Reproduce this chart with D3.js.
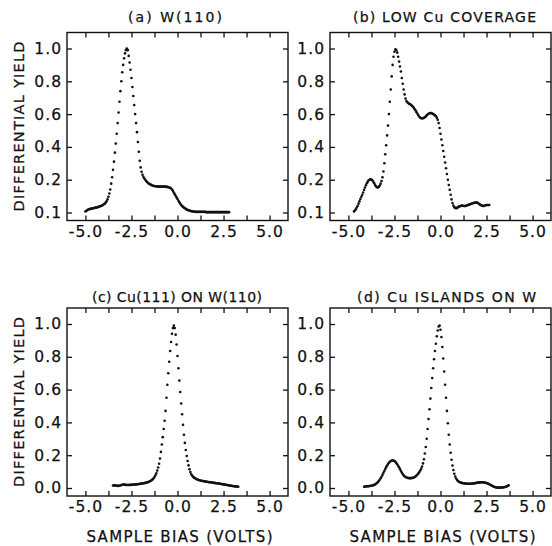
<!DOCTYPE html>
<html><head><meta charset="utf-8">
<script src="https://cdn.jsdelivr.net/npm/d3@7"></script>
<style>
body{margin:0;background:#fff}
text{font-family:"DejaVu Sans",sans-serif;fill:#111;stroke:#111;stroke-width:0.25px}
</style>
</head><body>
<svg id="chart" width="552" height="546"></svg>
<script>
// ---------- data ----------
const panelTitles = ["(a)  W(110)", "(b)  LOW  Cu  COVERAGE", "(c)  Cu(111)  ON  W(110)", "(d)  Cu  ISLANDS  ON  W"];
const yAxisTitle = "DIFFERENTIAL  YIELD";
const xAxisTitle = "SAMPLE  BIAS  (VOLTS)";
const xTickValues = [-5, -3.75, -2.5, -1.25, 0, 1.25, 2.5, 3.75, 5];
const xTickLabels = ["-5.0", "", "-2.5", "", "0.0", "", "2.5", "", "5.0"];
const yTicksTop = [0.1, 0.2, 0.4, 0.6, 0.8, 1.0];
const yTicksBottom = [0, 0.2, 0.4, 0.6, 0.8, 1.0];
const biasStep = 0.05;
const biasStartA = -5.0, biasStartB = -4.7, biasStartC = -3.5, biasStartD = -4.15;

const yieldA = [
0.103,0.105,0.107,0.109,0.110,0.111,0.111,0.112,0.113,0.113,
0.114,0.115,0.115,0.116,0.117,0.118,0.119,0.120,0.121,0.123,
0.125,0.127,0.130,0.134,0.140,0.148,0.158,0.170,0.188,0.215,
0.26,0.31,0.365,0.42,0.48,0.545,0.61,0.675,0.74,0.80,
0.855,0.90,0.94,0.97,0.99,1.00,0.99,0.955,0.915,0.87,
0.82,0.765,0.71,0.655,0.60,0.545,0.49,0.43,0.37,0.315,
0.275,0.248,0.230,0.217,0.207,0.200,0.196,0.193,0.190,0.188,
0.186,0.185,0.183,0.182,0.181,0.181,0.180,0.180,0.179,0.179,
0.179,0.179,0.179,0.179,0.179,0.179,0.179,0.179,0.178,0.178,
0.177,0.176,0.175,0.173,0.170,0.166,0.161,0.156,0.151,0.146,
0.141,0.136,0.131,0.127,0.123,0.120,0.117,0.115,0.113,0.111,
0.109,0.108,0.107,0.106,0.105,0.104,0.104,0.103,0.103,0.102,
0.102,0.102,0.102,0.102,0.102,0.102,0.102,0.102,0.102,0.102,
0.102,0.101,0.101,0.101,0.101,0.101,0.101,0.101,0.101,0.101,
0.101,0.101,0.101,0.101,0.101,0.101,0.101,0.101,0.101,0.101,
0.101,0.101,0.101,0.101,0.101,0.101,0.101];

const yieldB = [
0.103,0.106,0.110,0.115,0.120,0.127,0.134,0.141,0.148,0.154,
0.161,0.169,0.176,0.183,0.189,0.194,0.198,0.200,0.202,0.201,
0.198,0.194,0.189,0.184,0.180,0.177,0.176,0.178,0.182,0.188,
0.196,0.215,0.25,0.30,0.355,0.41,0.47,0.53,0.60,0.675,
0.75,0.83,0.90,0.95,0.98,0.995,0.99,0.975,0.95,0.92,
0.89,0.86,0.82,0.785,0.75,0.72,0.695,0.68,0.672,0.667,
0.663,0.660,0.656,0.651,0.645,0.638,0.630,0.622,0.612,0.602,
0.592,0.584,0.578,0.575,0.574,0.575,0.577,0.581,0.586,0.592,
0.598,0.602,0.605,0.606,0.606,0.604,0.601,0.597,0.593,0.587,
0.578,0.565,0.545,0.515,0.48,0.445,0.41,0.375,0.34,0.305,
0.27,0.235,0.20,0.184,0.169,0.154,0.140,0.129,0.121,0.116,
0.114,0.113,0.114,0.116,0.118,0.119,0.120,0.121,0.121,0.120,
0.120,0.120,0.121,0.122,0.123,0.124,0.125,0.126,0.127,0.128,
0.129,0.130,0.130,0.130,0.130,0.128,0.126,0.124,0.122,0.121,
0.120,0.120,0.121,0.122,0.123,0.123,0.123,0.123];

const yieldC = [
0.015,0.016,0.016,0.015,0.014,0.013,0.013,0.014,0.016,0.018,
0.020,0.021,0.021,0.020,0.019,0.018,0.018,0.018,0.019,0.019,
0.020,0.020,0.021,0.021,0.022,0.022,0.023,0.023,0.024,0.025,
0.026,0.027,0.028,0.029,0.030,0.031,0.032,0.034,0.036,0.038,
0.041,0.044,0.048,0.053,0.059,0.067,0.077,0.090,0.106,0.125,
0.148,0.18,0.22,0.265,0.31,0.36,0.41,0.47,0.55,0.63,
0.70,0.77,0.835,0.89,0.94,0.975,0.99,0.975,0.935,0.875,
0.805,0.73,0.655,0.585,0.515,0.45,0.385,0.325,0.275,0.232,
0.195,0.165,0.138,0.115,0.097,0.084,0.075,0.068,0.063,0.059,
0.056,0.053,0.051,0.049,0.047,0.045,0.044,0.043,0.042,0.041,
0.040,0.039,0.038,0.037,0.036,0.035,0.035,0.034,0.033,0.032,
0.031,0.030,0.029,0.029,0.028,0.027,0.026,0.025,0.024,0.023,
0.022,0.021,0.020,0.019,0.018,0.017,0.016,0.015,0.014,0.013,
0.012,0.011,0.010,0.010,0.009,0.009,0.008];

const yieldD = [
0.008,0.009,0.010,0.010,0.011,0.011,0.012,0.013,0.014,0.015,
0.017,0.019,0.022,0.026,0.030,0.036,0.042,0.050,0.059,0.069,
0.080,0.092,0.104,0.116,0.127,0.137,0.146,0.154,0.160,0.164,
0.167,0.168,0.167,0.164,0.159,0.153,0.145,0.136,0.126,0.115,
0.104,0.094,0.085,0.078,0.072,0.067,0.064,0.062,0.061,0.060,
0.060,0.060,0.061,0.062,0.064,0.067,0.071,0.076,0.082,0.089,
0.097,0.107,0.118,0.131,0.150,0.175,0.21,0.25,0.30,0.36,
0.42,0.48,0.545,0.61,0.67,0.73,0.785,0.835,0.88,0.925,
0.96,0.985,0.99,0.965,0.92,0.86,0.79,0.71,0.63,0.55,
0.47,0.395,0.325,0.265,0.215,0.172,0.137,0.109,0.087,0.070,
0.058,0.049,0.043,0.038,0.035,0.033,0.031,0.030,0.029,0.028,
0.027,0.027,0.026,0.026,0.026,0.026,0.026,0.027,0.027,0.028,
0.029,0.030,0.031,0.032,0.033,0.034,0.034,0.035,0.035,0.035,
0.034,0.033,0.032,0.030,0.028,0.026,0.023,0.020,0.017,0.014,
0.011,0.008,0.006,0.004,0.003,0.002,0.002,0.002,0.002,0.003,
0.003,0.004,0.005,0.006,0.008,0.010,0.013,0.016];

// ---------- layout ----------
const PW = 221, PH = 188, POS1 = 16, POS0 = 180;
const panels = [
  {x: 67,  y: 32.5, start: biasStartA, vals: yieldA, ticks: yTicksTop,    title: panelTitles[0], tx: 175,   ty: 21.5,  tlen: 94,  yTitle: true,  xTitle: false},
  {x: 330, y: 32.5, start: biasStartB, vals: yieldB, ticks: yTicksTop,    title: panelTitles[1], tx: 444.5, ty: 21.5,  tlen: 183, yTitle: false, xTitle: false},
  {x: 67,  y: 308,  start: biasStartC, vals: yieldC, ticks: yTicksBottom, title: panelTitles[2], tx: 177,   ty: 301.5, tlen: 170, yTitle: true,  xTitle: true},
  {x: 330, y: 308,  start: biasStartD, vals: yieldD, ticks: yTicksBottom, title: panelTitles[3], tx: 446.5, ty: 301.5, tlen: 179, yTitle: false, xTitle: true}
];

const svg = d3.select("#chart");
svg.append("rect").attr("width", 552).attr("height", 546).attr("fill", "#fff");

panels.forEach(p => {
  const g = svg.append("g").attr("transform", `translate(${p.x},${p.y})`);
  const x = d3.scaleLinear().domain([-6, 6]).range([0, PW]);
  const y = p.ticks[0] === 0.1
    ? d3.scaleLinear().domain([0.1, 0.2, 1.0]).range([POS0, POS0 - 0.2 * (POS0 - POS1), POS1])
    : d3.scaleLinear().domain([0, 1]).range([POS0, POS1]);

  const fmt = (d, i) => xTickLabels[i];
  const ax = g.append("g").attr("transform", `translate(0,${PH})`)
    .call(d3.axisBottom(x).tickValues(xTickValues).tickFormat(fmt).tickSize(-5).tickSizeOuter(0).tickPadding(5));
  const axT = g.append("g")
    .call(d3.axisTop(x).tickValues(xTickValues).tickFormat("").tickSize(-5).tickSizeOuter(0));
  const ay = g.append("g")
    .call(d3.axisLeft(y).tickValues(p.ticks).tickFormat(d3.format(".1f")).tickSize(-5).tickSizeOuter(0).tickPadding(5));
  const ayR = g.append("g").attr("transform", `translate(${PW},0)`)
    .call(d3.axisRight(y).tickValues(p.ticks).tickFormat("").tickSize(-5).tickSizeOuter(0));
  [ax, axT, ay, ayR].forEach(a => {
    a.select(".domain").remove();
    a.selectAll(".tick line").attr("stroke", "#111").attr("stroke-width", 1.3);
    a.selectAll("text").attr("font-size", 15.5).attr("letter-spacing", 1).attr("fill", "#111")
      .style("font-family", '"DejaVu Sans",sans-serif');
  });

  g.append("rect").attr("width", PW).attr("height", PH)
    .attr("fill", "none").attr("stroke", "#111").attr("stroke-width", 1.4);

  const pts = p.vals.map((v, i) => ({b: p.start + i * biasStep, v}));
  g.append("g").selectAll("circle").data(pts).join("circle")
    .attr("cx", d => x(d.b)).attr("cy", d => y(d.v)).attr("r", 1.3).attr("fill", "#111");

  svg.append("text").attr("x", p.tx).attr("y", p.ty).attr("text-anchor", "middle")
    .attr("font-size", 14).attr("textLength", p.tlen).attr("lengthAdjust", "spacing")
    .text(p.title);

  if (p.yTitle) {
    svg.append("text").attr("transform", `translate(24,${p.y + PH / 2}) rotate(-90)`)
      .attr("text-anchor", "middle").attr("font-size", 14.5)
      .attr("textLength", 170).attr("lengthAdjust", "spacing").text(yAxisTitle);
  }
  if (p.xTitle) {
    svg.append("text").attr("x", p.x + PW / 2 + 2).attr("y", 542)
      .attr("text-anchor", "middle").attr("font-size", 15)
      .attr("textLength", 186).attr("lengthAdjust", "spacing").text(xAxisTitle);
  }
});
</script>
</body></html>
